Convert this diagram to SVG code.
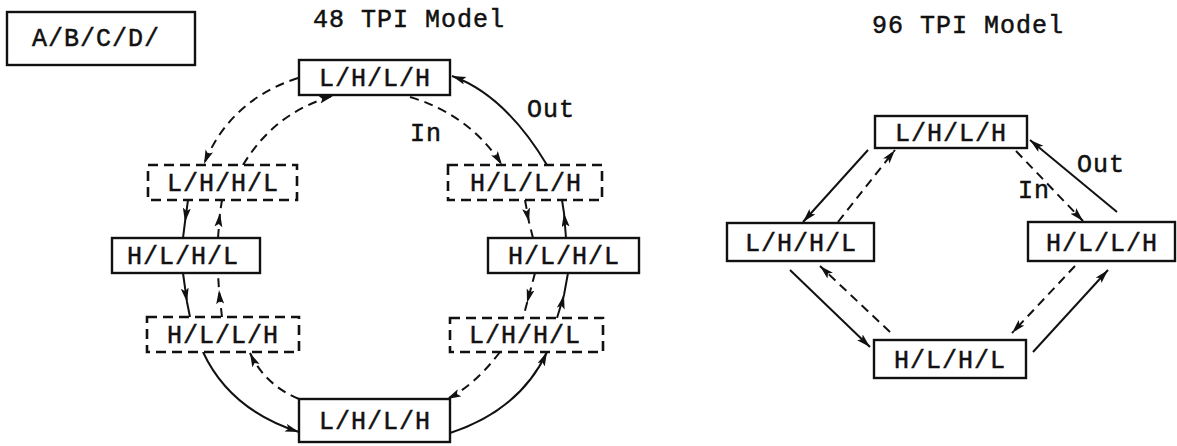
<svg xmlns="http://www.w3.org/2000/svg" width="1177" height="446" viewBox="0 0 1177 446">
<style>
text{font-family:"Liberation Mono","DejaVu Sans Mono",monospace;font-size:25px;letter-spacing:1px;fill:#111;stroke:#111;stroke-width:0.5}
.c{text-anchor:middle}
.box{fill:#fff;stroke:#111;stroke-width:2.4}
.dbox{fill:#fff;stroke:#111;stroke-width:2.6;stroke-dasharray:10 6}
.ln{fill:none;stroke:#111;stroke-width:2}
.ds{stroke-dasharray:9 6}
.ae{marker-end:url(#ah)}
.am{marker-mid:url(#ah)}
</style>
<defs>
<marker id="ah" markerUnits="userSpaceOnUse" markerWidth="16" markerHeight="10" refX="14" refY="4" orient="auto">
<path d="M0,0 L14,4 L0,8 L3,4 z" fill="#111"/>
</marker>
</defs>
<rect width="1177" height="446" fill="#fff"/>
<g id="legend"><rect class="box" x="7" y="12" width="188" height="53"/><text x="32" y="46">A/B/C/D/</text></g>
<text id="title48" x="313" y="27">48 TPI Model</text>
<text id="title96" x="872" y="33">96 TPI Model</text>
<g id="connectors">
<path class="ln ds ae" d="M298,78 Q230,100 204,164"/>
<path class="ln ds ae" d="M243,165 Q275,112 333,96"/>
<path class="ln ae" d="M547,165 Q505,95 452,76"/>
<path class="ln ds ae" d="M410,97 Q470,115 502,165"/>
<path class="ln am" d="M188,200 L185,222 L183,238"/>
<path class="ln ds am" d="M218,238 L220,213 L222,200"/>
<path class="ln am" d="M183,273 L187,302 L190,317"/>
<path class="ln ds am" d="M222,317 L219,290 L218,273"/>
<path class="ln ae" d="M203,352 Q230,410 299,432"/>
<path class="ln ds ae" d="M299,399 Q265,385 250,353"/>
<path class="ln ds ae" d="M500,352 Q475,385 447,399"/>
<path class="ln ae" d="M450,433 Q520,410 547,352"/>
<path class="ln ds am" d="M535,273 L527,303 L523,318"/>
<path class="ln am" d="M557,318 L564,295 L568,273"/>
<path class="ln ds am" d="M525,200 L529,222 L533,238"/>
<path class="ln am" d="M566,238 L564,213 L562,200"/>
<path class="ln ae" d="M868,150 L803,222"/>
<path class="ln ds ae" d="M838,222 L895,150"/>
<path class="ln ds ae" d="M1016,151 L1083,221"/>
<path class="ln ae" d="M1117,212 L1030,140"/>
<path class="ln ae" d="M790,270 L870,347"/>
<path class="ln ds ae" d="M890,332 L820,266"/>
<path class="ln ds ae" d="M1075,266 L1012,333"/>
<path class="ln ae" d="M1033,352 L1108,270"/>
</g>
<g id="labels">
<text x="527" y="117">Out</text>
<text x="410" y="141">In</text>
<text x="1077" y="172">Out</text>
<text x="1018" y="198">In</text>
</g>
<g id="n48-top"><rect class="box" x="299" y="60" width="151" height="35"/><text class="c" x="375" y="86">L/H/L/H</text></g>
<g id="n48-lhhl-up"><rect class="dbox" x="148" y="165" width="149" height="35"/><text class="c" x="223" y="191">L/H/H/L</text></g>
<g id="n48-hllh-up"><rect class="dbox" x="448" y="165" width="154" height="35"/><text class="c" x="526" y="191">H/L/L/H</text></g>
<g id="n48-hlhl-left"><rect class="box" x="112" y="238" width="148" height="35"/><text class="c" x="183" y="264">H/L/H/L</text></g>
<g id="n48-hlhl-right"><rect class="box" x="488" y="238" width="151" height="35"/><text class="c" x="564" y="264">H/L/H/L</text></g>
<g id="n48-hllh-low"><rect class="dbox" x="147" y="317" width="152" height="35"/><text class="c" x="223" y="343">H/L/L/H</text></g>
<g id="n48-lhhl-low"><rect class="dbox" x="450" y="318" width="153" height="34"/><text class="c" x="525" y="343">L/H/H/L</text></g>
<g id="n48-bottom"><rect class="box" x="299" y="399" width="151" height="43"/><text class="c" x="375" y="429">L/H/L/H</text></g>
<g id="n96-top"><rect class="box" x="875" y="116" width="152" height="32"/><text class="c" x="951" y="141">L/H/L/H</text></g>
<g id="n96-lhhl"><rect class="box" x="727" y="223" width="147" height="38"/><text class="c" x="801" y="251">L/H/H/L</text></g>
<g id="n96-hllh"><rect class="box" x="1028" y="222" width="147" height="39"/><text class="c" x="1102" y="251">H/L/L/H</text></g>
<g id="n96-hlhl"><rect class="box" x="874" y="340" width="152" height="38"/><text class="c" x="950" y="368">H/L/H/L</text></g>
</svg>
